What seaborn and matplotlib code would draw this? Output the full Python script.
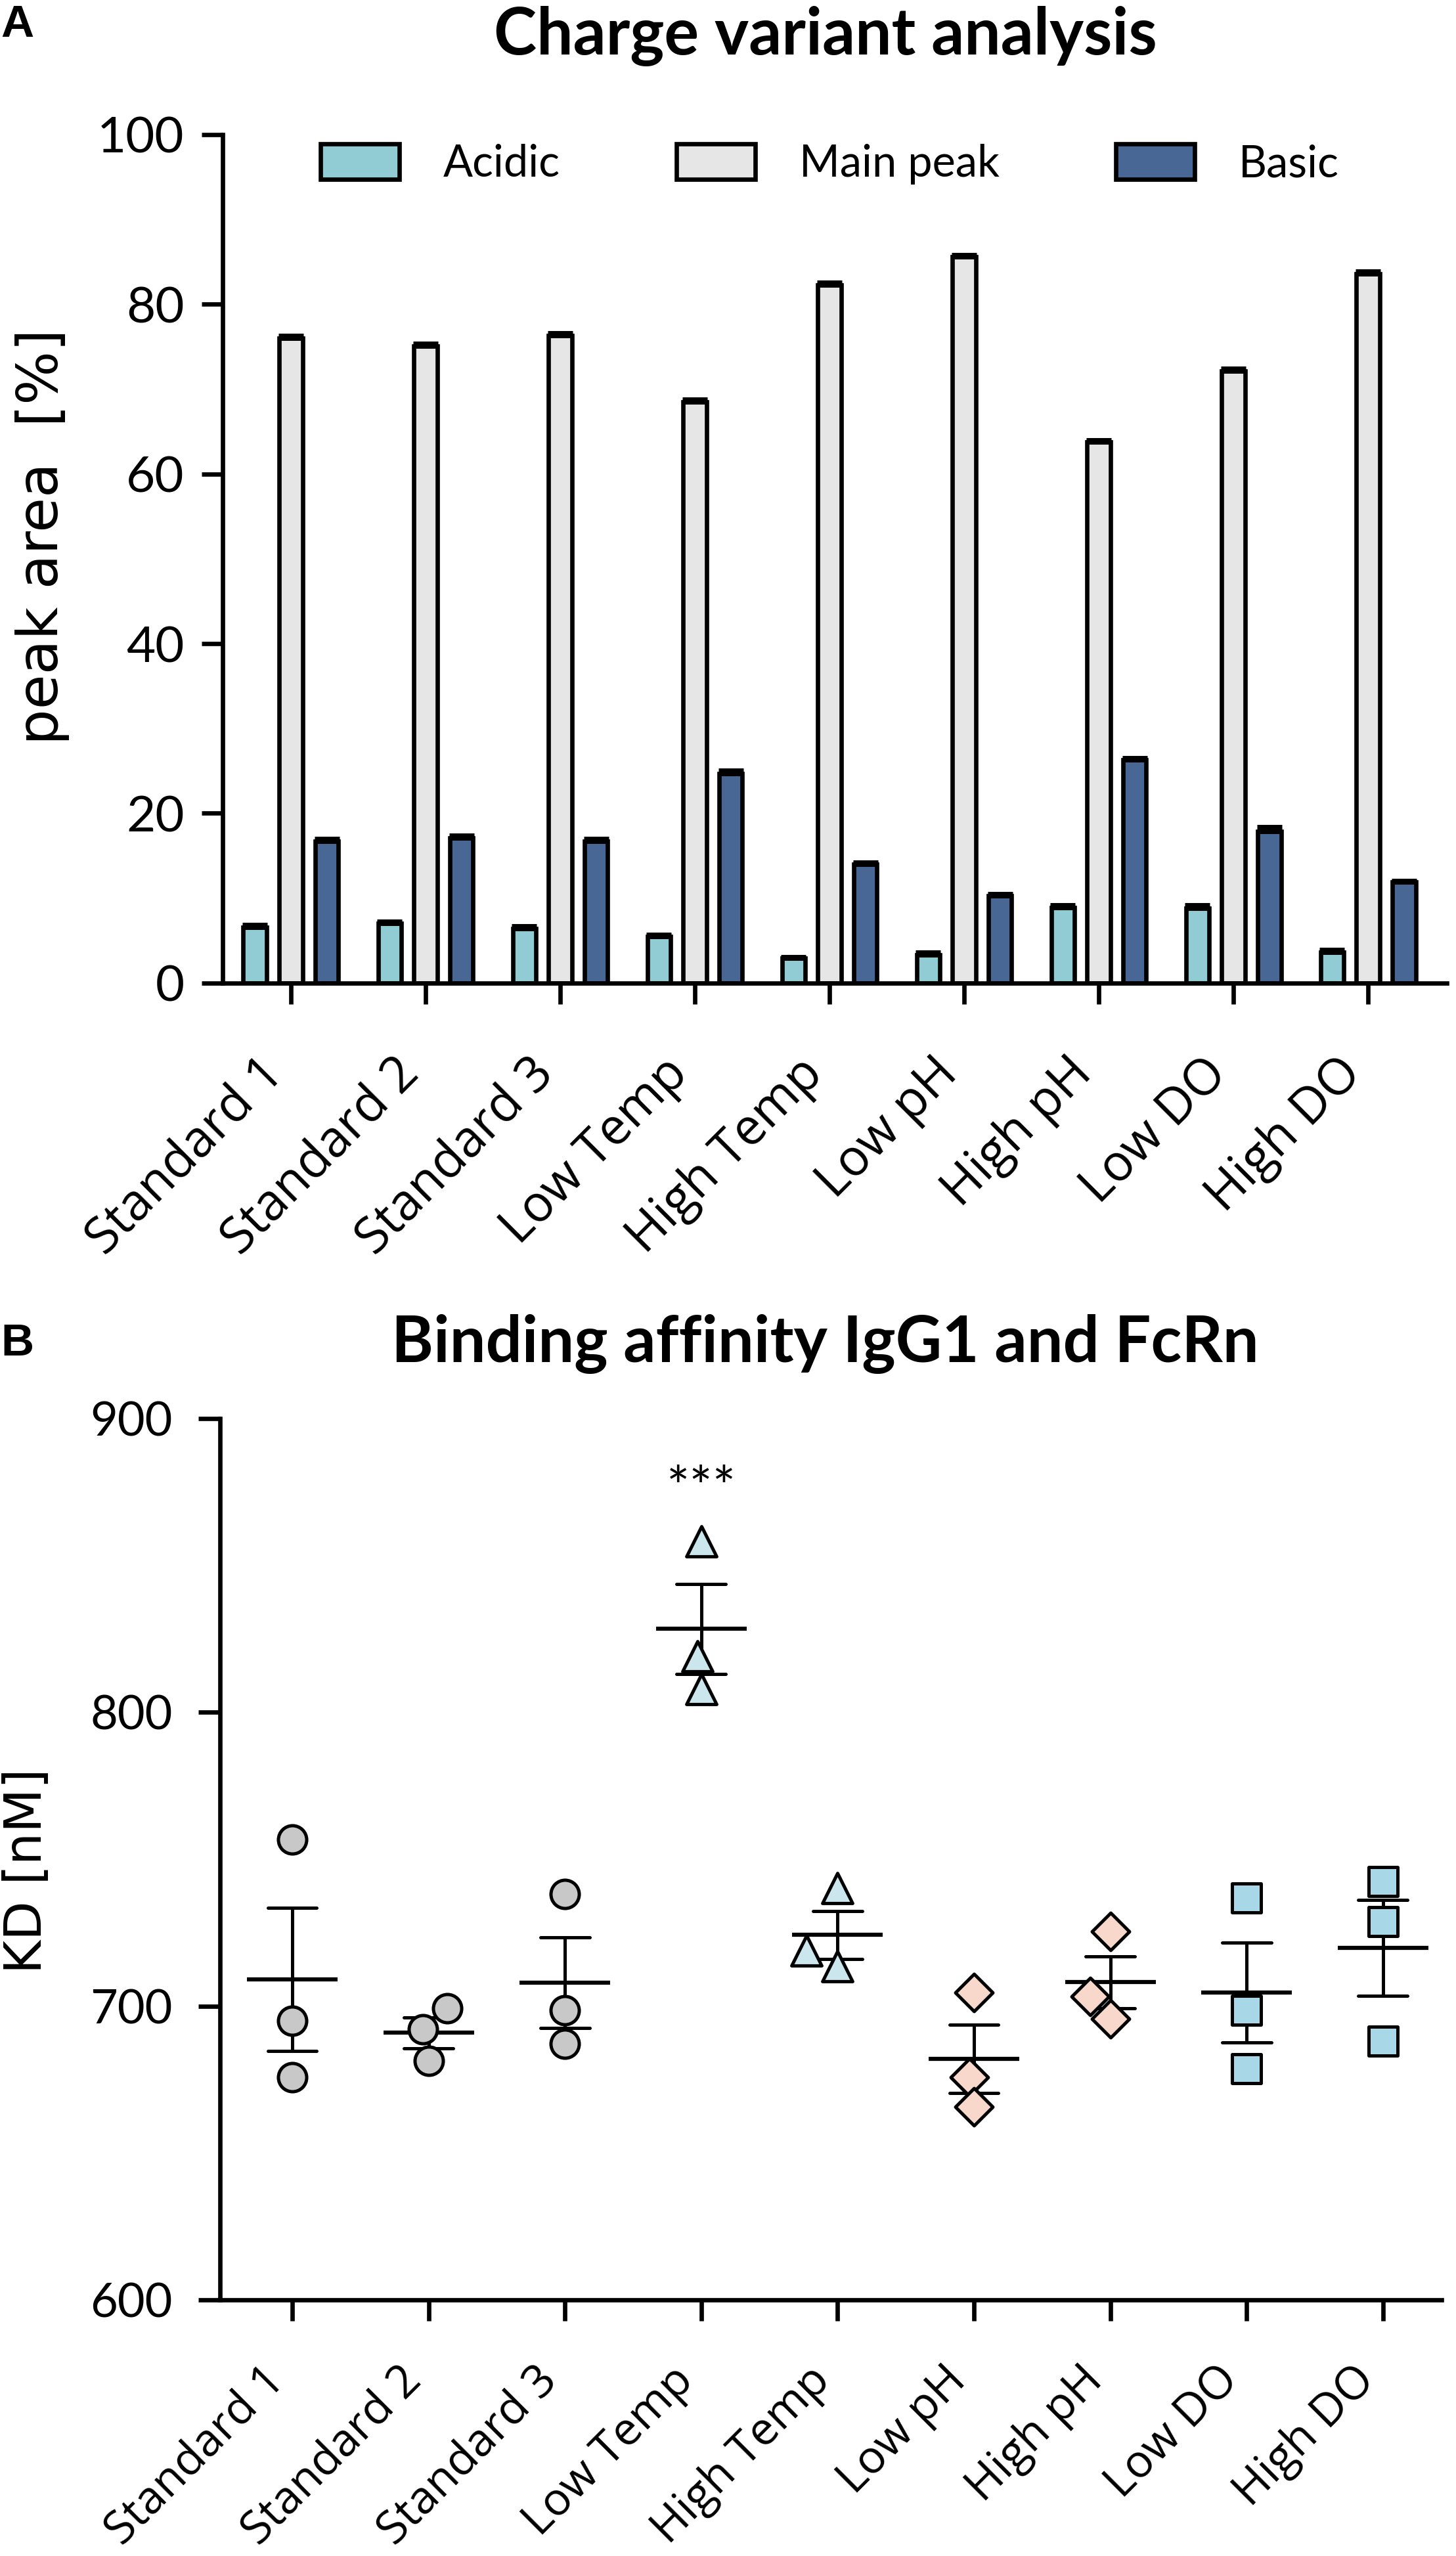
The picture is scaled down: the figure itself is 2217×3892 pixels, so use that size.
import numpy as np
import pandas as pd
import seaborn as sns
import matplotlib.pyplot as plt
from matplotlib.transforms import ScaledTranslation

# ---- data ----
conditions = ['Standard 1', 'Standard 2', 'Standard 3', 'Low Temp', 'High Temp',
              'Low pH', 'High pH', 'Low DO', 'High DO']
variants = ['Acidic', 'Main peak', 'Basic']

# panel A: charge variants (peak area %, mean and SEM)
acidic = [6.6, 7.0, 6.4, 5.5, 2.9, 3.3, 8.9, 8.8, 3.6]
main_peak = [76.0, 75.1, 76.3, 68.5, 82.3, 85.6, 63.8, 72.1, 83.6]
basic = [16.7, 17.1, 16.7, 24.7, 14.0, 10.3, 26.3, 17.9, 11.9]
acidic_sem = [0.3, 0.3, 0.3, 0.2, 0.2, 0.3, 0.3, 0.4, 0.3]
main_sem = [0.3, 0.3, 0.3, 0.3, 0.3, 0.2, 0.2, 0.3, 0.3]
basic_sem = [0.3, 0.3, 0.3, 0.4, 0.2, 0.2, 0.2, 0.5, 0.2]

# panel B: KD replicates [nM]
kd_standard1 = [756.7, 695.0, 675.8]
kd_standard2 = [699.3, 692.0, 681.4]
kd_standard3 = [738.2, 698.5, 687.1]
kd_low_temp = [858.3, 819.1, 807.8]
kd_high_temp = [740.2, 718.9, 713.5]
kd_low_ph = [704.7, 675.8, 665.8]
kd_high_ph = [725.4, 703.3, 695.6]
kd_low_do = [736.8, 698.5, 678.6]
kd_high_do = [742.5, 728.8, 688.0]

bar_colors = {'Acidic': '#86D3DE', 'Main peak': '#E6E6E6', 'Basic': '#3D65A0'}

sns.set_style('ticks')
plt.rcParams['font.family'] = ['Lato', 'DejaVu Sans']
plt.rcParams.update({
    'axes.linewidth': 4.8,
    'axes.edgecolor': 'black',
    'text.color': 'black',
    'axes.labelcolor': 'black',
    'xtick.color': 'black',
    'ytick.color': 'black',
})

fig = plt.figure(figsize=(22.17, 38.92), dpi=100)
shift_left = ScaledTranslation(-0.22, 0, fig.dpi_scale_trans)

# ---------------- Panel A ----------------
df_a = pd.DataFrame({
    'condition': conditions * 3,
    'variant': np.repeat(variants, len(conditions)),
    'value': acidic + main_peak + basic,
})
sems = [acidic_sem, main_sem, basic_sem]

ax_a = fig.add_axes([0.1529, 0.6154, 0.8408, 0.33196])
sns.barplot(data=df_a, x='condition', y='value', hue='variant', order=conditions,
            hue_order=variants, palette=bar_colors, errorbar=None, width=0.8, gap=0.35,
            edgecolor='black', linewidth=4.8, ax=ax_a)

for cont, err in zip(ax_a.containers, sems):
    xs = [p.get_x() + p.get_width() / 2 for p in cont.patches]
    hs = [p.get_height() for p in cont.patches]
    ax_a.errorbar(xs, hs, yerr=[np.zeros(len(err)), err], fmt='none', ecolor='black',
                  elinewidth=4, capsize=14, capthick=5, zorder=3)

ax_a.set_ylim(0, 100)
ax_a.set_xlim(-0.507, 8.585)
ax_a.set_yticks([0, 20, 40, 60, 80, 100])
ax_a.set_xlabel('')
ax_a.set_ylabel('peak area  [%]', fontsize=62, family='DejaVu Sans')
ax_a.yaxis.set_label_coords(-0.125, 0.526)
ax_a.tick_params(axis='y', length=23, width=4.8, pad=19, labelsize=55)
ax_a.tick_params(axis='x', length=23, width=4.8, pad=68)
for lab in ax_a.get_xticklabels():
    lab.set(rotation=45, ha='right', va='center', rotation_mode='anchor',
            fontsize=55, family='Open Sans')
    lab.set_transform(lab.get_transform() + shift_left)
sns.despine(ax=ax_a)

ax_a.legend(ncol=3, loc='center', bbox_to_anchor=(0.496, 0.965), frameon=False,
            fontsize=48, handlelength=1.8, handleheight=0.85, handletextpad=1.0,
            columnspacing=2.66)

fig.text(0.567, 1 - 55 / 3892, 'Charge variant analysis', ha='center', va='center',
         fontsize=71, fontweight='bold')
fig.text(0.012, 1 - 38 / 3892, 'A', ha='center', va='center', fontsize=50,
         fontweight='bold', family='Liberation Sans')

# ---------------- Panel B ----------------
kd_all = [kd_standard1, kd_standard2, kd_standard3, kd_low_temp, kd_high_temp,
          kd_low_ph, kd_high_ph, kd_low_do, kd_high_do]
df_b = pd.DataFrame({
    'condition': np.repeat(conditions, 3),
    'KD': np.concatenate(kd_all),
})

groups = [
    (['Standard 1', 'Standard 2', 'Standard 3'], 'o', '#C8C8C8', 31),
    (['Low Temp', 'High Temp'], '^', '#CCE6EE', 33),
    (['Low pH', 'High pH'], 'D', '#F8D8CA', 29),
    (['Low DO', 'High DO'], 's', '#A8D8E8', 31),
]

ax_b = fig.add_axes([0.1511, 0.1002, 0.839, 0.3448])
for names, mk, col, sz in groups:
    sns.swarmplot(data=df_b[df_b['condition'].isin(names)], x='condition', y='KD',
                  order=conditions, marker=mk, color=col, edgecolor='black',
                  linewidth=3.6, size=sz, ax=ax_b)

# mean +/- SEM
sns.pointplot(data=df_b, x='condition', y='KD', order=conditions, errorbar='se',
              capsize=0.36, color='black', marker='_', markersize=100,
              markeredgewidth=4.5, linestyle='none', err_kws={'linewidth': 3.6},
              ax=ax_b)

ax_b.text(conditions.index('Low Temp'), max(kd_low_temp) + 12, '***', ha='center',
          va='baseline', fontsize=60)

ax_b.set_ylim(600, 900)
ax_b.set_xlim(-0.53, 8.43)
ax_b.set_yticks([600, 700, 800, 900])
ax_b.set_xlabel('')
ax_b.set_ylabel('KD [nM]', fontsize=56, family='DejaVu Sans')
ax_b.yaxis.set_label_coords(-0.138, 0.487)
ax_b.tick_params(axis='y', length=24, width=4.8, pad=28, labelsize=52)
ax_b.tick_params(axis='x', length=23, width=4.8, pad=58)
for lab in ax_b.get_xticklabels():
    lab.set(rotation=45, ha='right', va='center', rotation_mode='anchor',
            fontsize=50, family='Open Sans')
    lab.set_transform(lab.get_transform() + shift_left)
sns.despine(ax=ax_b)

fig.text(0.5666, 1 - 2046 / 3892, 'Binding affinity IgG1 and FcRn', ha='center',
         va='center', fontsize=70, fontweight='bold')
fig.text(0.012, 1 - 2046 / 3892, 'B', ha='center', va='center', fontsize=50,
         fontweight='bold', family='Liberation Sans')

fig.savefig('out.png', dpi=100)
